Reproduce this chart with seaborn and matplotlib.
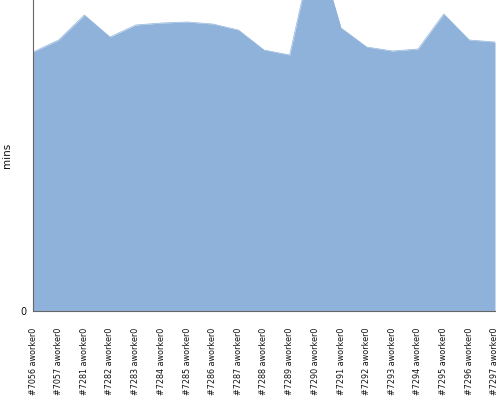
import matplotlib
matplotlib.use("Agg")
import matplotlib.pyplot as plt
import seaborn as sns
import pandas as pd

categories = ["#7056 aworker0", "#7057 aworker0", "#7281 aworker0", "#7282 aworker0",
              "#7283 aworker0", "#7284 aworker0", "#7285 aworker0", "#7286 aworker0",
              "#7287 aworker0", "#7288 aworker0", "#7289 aworker0", "#7290 aworker0",
              "#7291 aworker0", "#7292 aworker0", "#7293 aworker0", "#7294 aworker0",
              "#7295 aworker0", "#7296 aworker0", "#7297 aworker0"]
mins = [259, 271, 296, 274, 286, 288, 289, 287, 281, 261, 256, 371,
        283, 264, 260, 262, 297, 271, 269]
y_max = 311

sns.set_theme(style="white")
plt.rcParams['font.family'] = ['DejaVu Sans']

df = pd.DataFrame({"job": categories, "mins": mins})

fig = plt.figure(figsize=(5, 4), dpi=100)
ax = fig.add_axes([33/500, 1 - 311/400, 462/500, 311/400])
color = "#8fb2db"
sns.lineplot(data=df, x="job", y="mins", ax=ax, color=color, linewidth=0.5, sort=False)
ax.fill_between(df["job"], 0, df["mins"], color=color, linewidth=0)

ax.set_xlim(0, len(categories) - 1)
ax.set_ylim(0, y_max)
ax.set_yticks([0])
ax.set_yticklabels(["0"], fontsize=7, color="#111111")
ax.set_xticks(range(len(categories)))
ax.set_xticklabels(categories, rotation=90, fontsize=5.8, color="#111111")
ax.set_xlabel("")
ax.set_ylabel("mins", fontsize=7.5, color="#111111")
ax.yaxis.set_label_coords(-0.045, 0.5)
ax.tick_params(axis="y", length=3, width=0.8, color="#666666", pad=2)
ax.tick_params(axis="x", length=0, pad=12)
for s in ["top", "right"]:
    ax.spines[s].set_visible(False)
for s in ["left", "bottom"]:
    ax.spines[s].set_color("#666666")
    ax.spines[s].set_linewidth(0.8)

fig.savefig("out.png", dpi=100)
